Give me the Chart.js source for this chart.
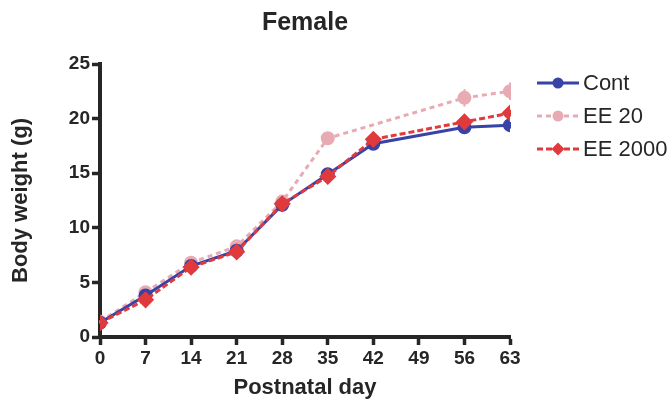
<!DOCTYPE html>
<html>
<head>
<meta charset="utf-8">
<script src="https://cdn.jsdelivr.net/npm/chart.js@4/dist/chart.umd.min.js"></script>
<style>
  html, body { margin: 0; padding: 0; background: #fff; }
  #wrap { width: 670px; height: 402px; }
</style>
</head>
<body>
<div id="wrap"><canvas id="c" width="670" height="402"></canvas></div>
<script>
// Postnatal days sampled
const days = [0, 7, 14, 21, 28, 35, 42, 56, 63];
// x-axis tick labels (every week)
const dayTicks = [0, 7, 14, 21, 28, 35, 42, 49, 56, 63];
// Mean body weight (g) per group
const contMean   = [1.3, 3.8, 6.5, 7.9, 12.1, 14.9, 17.7, 19.2, 19.4];
const ee20Mean   = [1.4, 4.1, 6.8, 8.3, 12.4, 18.2, null, 21.9, 22.5];
const ee2000Mean = [1.3, 3.4, 6.4, 7.8, 12.2, 14.7, 18.1, 19.7, 20.5];
// SEM per group
const contErr    = [0.1, 0.2, 0.2, 0.2, 0.3, 0.3, 0.3, 0.3, 0.3];
const ee20Err    = [0.1, 0.2, 0.2, 0.2, 0.3, 0.3, null, 0.8, 0.8];
const ee2000Err  = [0.1, 0.2, 0.2, 0.2, 0.3, 0.3, 0.3, 0.3, 0.3];
const seriesNames = ['Cont', 'EE 20', 'EE 2000'];
const yTicks = [0, 5, 10, 15, 20, 25];

const FONT = '"Liberation Sans", Arial, Helvetica, sans-serif';
const INK = '#262626';

function pts(vals) { return days.map((d, i) => ({ x: d, y: vals[i] })); }

const datasets = [
  { label: seriesNames[0], data: pts(contMean), err: contErr,
    borderColor: '#3743a6', backgroundColor: '#3743a6', borderWidth: 3,
    pointStyle: 'circle', pointRadius: 5.5, order: 2 },
  { label: seriesNames[1], data: pts(ee20Mean), err: ee20Err,
    borderColor: '#e8abb4', backgroundColor: '#e8abb4', borderWidth: 3, borderDash: [5, 4],
    pointStyle: 'circle', pointRadius: 5.5, order: 3 },
  { label: seriesNames[2], data: pts(ee2000Mean), err: ee2000Err,
    borderColor: '#e03a3c', backgroundColor: '#e03a3c', borderWidth: 3, borderDash: [6, 3],
    pointStyle: 'rectRot', pointRadius: 6.5, order: 1 }
];

// Vertical SEM whiskers drawn under each series
const errorBars = {
  id: 'errorBars',
  beforeDatasetsDraw(chart) {
    const { ctx, scales: { x, y } } = chart;
    ctx.save();
    chart.data.datasets.forEach(ds => {
      ctx.strokeStyle = ds.borderColor;
      ctx.lineWidth = 2;
      ds.data.forEach((p, i) => {
        const e = ds.err[i];
        if (p.y == null || e == null) return;
        const px = x.getPixelForValue(p.x);
        ctx.beginPath();
        ctx.moveTo(px, y.getPixelForValue(p.y - e));
        ctx.lineTo(px, y.getPixelForValue(p.y + e));
        ctx.stroke();
      });
    });
    ctx.restore();
  }
};

// Title and line-with-marker legend
const decorations = {
  id: 'decorations',
  afterDraw(chart) {
    const { ctx, chartArea } = chart;
    ctx.save();
    ctx.fillStyle = INK;
    ctx.font = 'bold 25px ' + FONT;
    ctx.textAlign = 'center';
    ctx.textBaseline = 'middle';
    ctx.fillText('Female', (chartArea.left + chartArea.right) / 2, 23);

    const rows = [83, 116, 149];
    chart.data.datasets.forEach((ds, i) => {
      const yy = rows[i];
      ctx.strokeStyle = ds.borderColor;
      ctx.lineWidth = 3;
      ctx.setLineDash(ds.borderDash || []);
      ctx.beginPath();
      ctx.moveTo(537, yy);
      ctx.lineTo(579, yy);
      ctx.stroke();
      ctx.setLineDash([]);
      ctx.fillStyle = ds.backgroundColor;
      Chart.helpers.drawPoint(ctx, { pointStyle: ds.pointStyle, radius: ds.pointRadius, rotation: 0, borderWidth: 0 }, 558, yy);
      ctx.fillStyle = INK;
      ctx.font = '22px ' + FONT;
      ctx.textAlign = 'left';
      ctx.fillText(ds.label, 583, yy + 1);
    });
    ctx.restore();
  }
};

new Chart(document.getElementById('c'), {
  type: 'line',
  data: { datasets },
  plugins: [errorBars, decorations],
  options: {
    responsive: false,
    animation: false,
    spanGaps: true,
    layout: { padding: { top: 64, right: 160, bottom: 0, left: 0 } },
    plugins: { legend: { display: false }, tooltip: { enabled: false } },
    elements: { line: { tension: 0 }, point: { borderWidth: 0 } },
    scales: {
      x: {
        type: 'linear', min: 0, max: 63,
        afterBuildTicks: s => { s.ticks = dayTicks.map(v => ({ value: v })); },
        afterFit: s => { s.height = 65; },
        border: { display: true, color: INK, width: 4 },
        grid: { drawOnChartArea: false, tickLength: 8, tickWidth: 3.5, tickColor: INK },
        ticks: { color: INK, font: { family: FONT, size: 19, weight: 'bold' }, padding: 2, maxRotation: 0 },
        title: { display: true, text: 'Postnatal day', color: INK,
                 font: { family: FONT, size: 22, weight: 'bold' }, padding: { top: 0, bottom: 1 } }
      },
      y: {
        type: 'linear', min: 0, max: 25,
        afterBuildTicks: s => { s.ticks = yTicks.map(v => ({ value: v })); },
        afterFit: s => { s.width = 100; },
        border: { display: true, color: INK, width: 4 },
        grid: { drawOnChartArea: false, tickLength: 8, tickWidth: 3.5, tickColor: INK },
        ticks: { color: INK, font: { family: FONT, size: 19, weight: 'bold' }, padding: 2 },
        title: { display: true, text: 'Body weight (g)', color: INK,
                 font: { family: FONT, size: 22, weight: 'bold' }, padding: { top: 8, bottom: 0 } }
      }
    }
  }
});
</script>
</body>
</html>
